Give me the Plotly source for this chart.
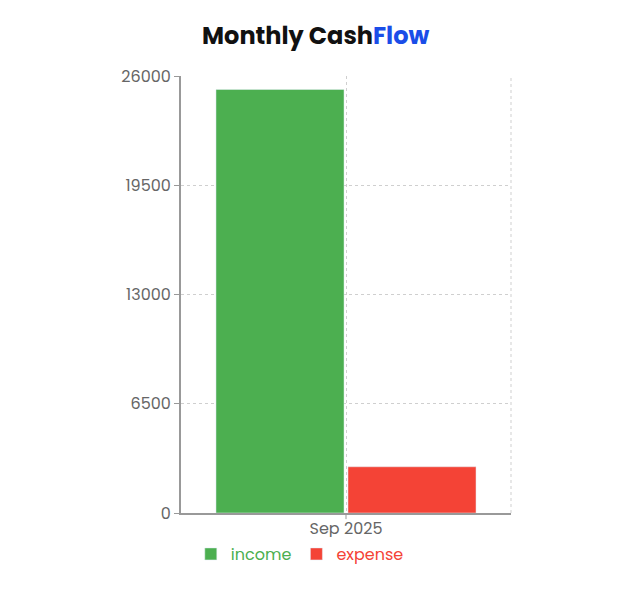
import plotly.graph_objects as go

months = ["Sep 2025"]
income = [25200]
expense = [2750]
y_ticks = [0, 6500, 13000, 19500, 26000]
y_tick_labels = ["0", "6500", "13000", "19500", "26000"]

FONT = "Poppins, Inter, Open Sans, sans-serif"
GREEN = "#4caf50"
RED = "#f44336"
GRID = "#cfcfcf"

fig = go.Figure()
fig.add_trace(go.Bar(
    x=months, y=income, marker_color=GREEN,
    name=f"<span style='color:{GREEN}'>income</span>",
))
fig.add_trace(go.Bar(
    x=months, y=expense, marker_color=RED,
    name=f"<span style='color:{RED}'>expense</span>",
))

# dashed right border of the plot area
fig.add_shape(type="line", xref="paper", yref="paper", x0=1, x1=1, y0=0, y1=1,
              line=dict(color=GRID, width=1, dash="dot"))
# short x tick mark under the category (label sits close to the axis)
fig.add_shape(type="line", xref="x", yref="paper", x0=months[0], x1=months[0], y0=0, y1=-0.014,
              line=dict(color="#999999", width=1))

fig.update_layout(
    width=641, height=593,
    margin=dict(l=173, r=138, t=68, b=88),
    paper_bgcolor="white", plot_bgcolor="white",
    font=dict(family=FONT, size=16, color="#666666"),
    title=dict(
        text="<b>Monthly Cash<span style='color:#1a4de8'>Flow</span></b>",
        x=0.48, xref="container", xanchor="center", y=0.953, yanchor="middle",
        font=dict(family=FONT, size=24, color="#111111"),
    ),
    barmode="group", bargap=0.2, bargroupgap=0.03,
    showlegend=True,
    legend=dict(orientation="h", x=0.36, xanchor="center", y=-0.055, yanchor="top",
                font=dict(size=16), itemwidth=30),
    xaxis=dict(
        type="category", showline=True, linecolor="#999999", linewidth=2,
        showgrid=True, gridcolor=GRID, griddash="dot",
        ticks="",
    ),
    yaxis=dict(
        range=[0, 26000], tickvals=y_ticks, ticktext=y_tick_labels,
        showline=True, linecolor="#999999", linewidth=2,
        showgrid=True, gridcolor=GRID, griddash="dot", zeroline=False,
        ticks="outside", ticklen=5, tickcolor="#999999",
    ),
)

fig.write_html("out.html")
